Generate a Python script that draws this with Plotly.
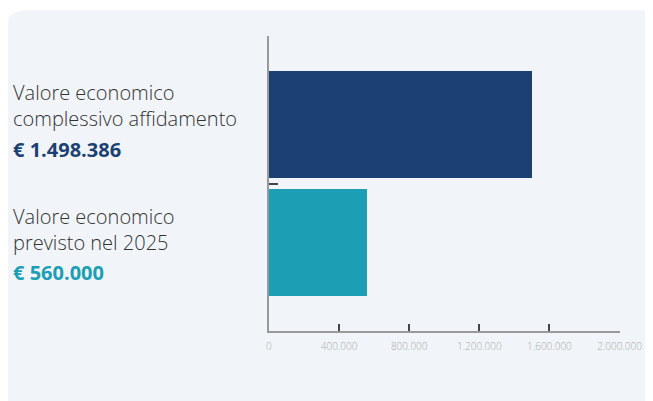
import plotly.graph_objects as go

categories = ["Valore economico complessivo affidamento", "Valore economico previsto nel 2025"]
label_lines = [["Valore economico", "complessivo affidamento"], ["Valore economico", "previsto nel 2025"]]
values = [1498386, 560000]
value_labels = ["€ 1.498.386", "€ 560.000"]
colors = ["#1b4173", "#1c9eb4"]
x_ticks = [0, 400000, 800000, 1200000, 1600000, 2000000]
x_tick_labels = ["0", "400.000", "800.000", "1.200.000", "1.600.000", "2.000.000"]

OFF = 8      # page body margin
SX = 0.965   # observed horizontal rendering scale
W, H = 670, 401 - OFF
def px(x):
    return (x - OFF) / SX / W
def py(y):
    return 1 - (y - OFF) / H

fig = go.Figure()
fig.add_trace(go.Bar(
    x=values, y=list(range(len(categories))), orientation="h",
    marker=dict(color=colors, line=dict(width=0)), width=0.9,
    customdata=categories, hovertemplate="%{customdata}: %{x}<extra></extra>",
))

# card background
r = 26
x0, x1, y0, y1 = 0, 662, 10, 420
path = (f"M {px(x0)},{py(y0 + r)} Q {px(x0)},{py(y0)} {px(x0 + r)},{py(y0)} "
        f"L {px(x1 - r)},{py(y0)} Q {px(x1)},{py(y0)} {px(x1)},{py(y0 + r)} "
        f"L {px(x1)},{py(y1 - r)} Q {px(x1)},{py(y1)} {px(x1 - r)},{py(y1)} "
        f"L {px(x0 + r)},{py(y1)} Q {px(x0)},{py(y1)} {px(x0)},{py(y1 - r)} Z")
shapes = [dict(type="path", path=path, xref="paper", yref="paper",
               fillcolor="#f1f5f9", line=dict(width=0), layer="below")]

annotations = []
label_y = [105, 229]
val_y = [149, 272]
for i in range(len(categories)):
    annotations.append(dict(text="<br>".join(label_lines[i]), x=px(OFF), y=py(label_y[i]),
                            xref="paper", yref="paper", align="left",
                            xanchor="left", yanchor="middle", showarrow=False,
                            font=dict(family="Open Sans", size=20, color="#333333", weight=300)))
    annotations.append(dict(text=f"<b>{value_labels[i]}</b>", x=px(OFF), y=py(val_y[i]), xref="paper", yref="paper",
                            xanchor="left", yanchor="middle", showarrow=False,
                            font=dict(family="Open Sans", size=20, color=colors[i])))

fig.update_layout(
    width=W, height=H, margin=dict(l=0, r=0, t=0, b=0),
    paper_bgcolor="white", plot_bgcolor="rgba(0,0,0,0)",
    showlegend=False, shapes=shapes, annotations=annotations, bargap=0,
    xaxis=dict(domain=[px(267), px(619)], range=[0, 2000000], tickvals=x_ticks, ticktext=x_tick_labels,
               ticks="inside", ticklen=7, tickwidth=1.5, tickcolor="#444444",
               showline=True, linecolor="#999999", linewidth=1.5, showgrid=False, zeroline=False,
               tickfont=dict(family="Open Sans", size=10, color="#aaaaaa", weight=300), ticklabelstandoff=5,
               fixedrange=True),
    yaxis=dict(domain=[py(331), py(36)], range=[1.75, -0.75], tickvals=[0.5], ticktext=[""],
               ticks="inside", ticklen=9, tickwidth=2, tickcolor="#444444",
               showline=True, linecolor="#999999", linewidth=1.5, showgrid=False, zeroline=False,
               fixedrange=True),
)
fig.write_html("out.html", config=dict(displayModeBar=False))
